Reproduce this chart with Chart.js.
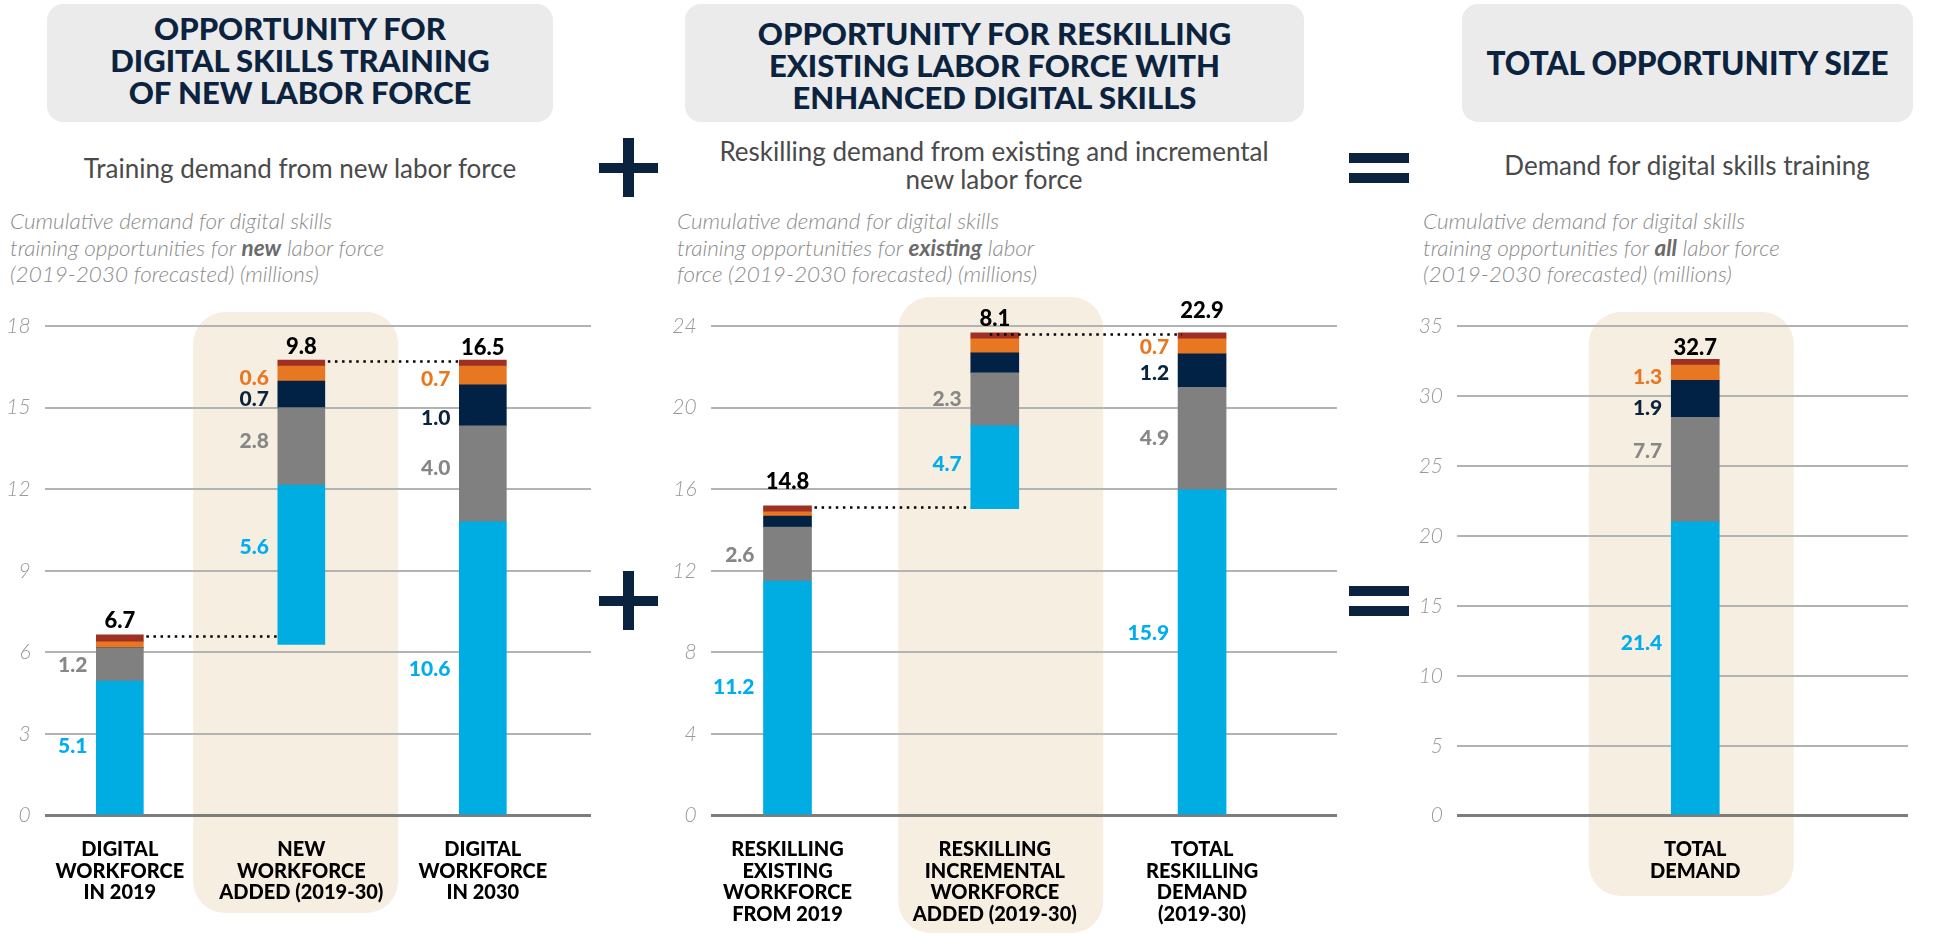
<!DOCTYPE html>
<html>
<head>
<meta charset="utf-8">
<script src="https://cdn.jsdelivr.net/npm/chart.js@4.4.1/dist/chart.umd.min.js"></script>
<style>
body{margin:0;width:1933px;height:934px;background:#fff;position:relative;overflow:hidden;font-family:Lato,'Open Sans',sans-serif;}
.box{position:absolute;top:4px;height:118px;background:#ebebeb;border-radius:16px;color:#0c2340;font-weight:900;font-size:31px;line-height:32px;text-align:center;box-sizing:border-box;}
.sub{position:absolute;color:#4a4a4a;font-size:26px;font-weight:400;line-height:28.3px;text-align:center;}
.desc{position:absolute;color:#8c8c8c;font-style:italic;font-weight:300;font-size:22.5px;line-height:26.7px;white-space:nowrap;}
.desc b{color:#6b6b6b;font-weight:700;}
.sign{position:absolute;background:#0c2340;}
canvas{position:absolute;}
</style>
</head>
<body>
<div class="box" style="left:47px;width:506px;padding-top:8px;">OPPORTUNITY FOR<br>DIGITAL SKILLS TRAINING<br>OF NEW LABOR FORCE</div>
<div class="box" style="left:685px;width:619px;padding-top:13px;">OPPORTUNITY FOR RESKILLING<br>EXISTING LABOR FORCE WITH<br>ENHANCED DIGITAL SKILLS</div>
<div class="box" style="left:1462px;width:451px;padding-top:43px;font-size:31.5px;">TOTAL OPPORTUNITY SIZE</div>

<div class="sub" style="left:0;width:600px;top:154px;">Training demand from new labor force</div>
<div class="sub" style="left:644px;width:700px;top:137px;">Reskilling demand from existing and incremental<br>new labor force</div>
<div class="sub" style="left:1437px;width:500px;top:151px;">Demand for digital skills training</div>

<div class="desc" style="left:10px;top:208px;">Cumulative demand for digital skills<br>training opportunities for <b>new</b> labor force<br>(2019-2030 forecasted) (millions)</div>
<div class="desc" style="left:677px;top:208px;">Cumulative demand for digital skills<br>training opportunities for <b>existing</b> labor<br>force (2019-2030 forecasted) (millions)</div>
<div class="desc" style="left:1423px;top:208px;">Cumulative demand for digital skills<br>training opportunities for <b>all</b> labor force<br>(2019-2030 forecasted) (millions)</div>

<!-- plus and equals signs -->
<div class="sign" style="left:599px;top:163px;width:59px;height:10px;"></div>
<div class="sign" style="left:623px;top:138px;width:11px;height:59px;"></div>
<div class="sign" style="left:599px;top:596px;width:59px;height:10px;"></div>
<div class="sign" style="left:623px;top:571px;width:11px;height:59px;"></div>
<div class="sign" style="left:1349px;top:153px;width:60px;height:10px;"></div>
<div class="sign" style="left:1349px;top:173px;width:60px;height:10px;"></div>
<div class="sign" style="left:1349px;top:586px;width:60px;height:10px;"></div>
<div class="sign" style="left:1349px;top:606px;width:60px;height:10px;"></div>

<canvas id="c1" width="591" height="649" style="left:0;top:285px;"></canvas>
<canvas id="c2" width="677" height="649" style="left:660px;top:285px;"></canvas>
<canvas id="c3" width="533" height="649" style="left:1390px;top:285px;"></canvas>

<script>
// series order, bottom to top
var seriesNames = ['Blue segment', 'Grey segment', 'Navy segment', 'Orange segment', 'Red segment'];
var barColors = ['#00ade3', '#808080', '#012245', '#e87722', '#9e3124'];
var labelColors = ['#00aeef', '#878787', '#0c2340', '#e87722', '#9e3124'];

// chart 1 - new labor force
var c1Cats = [['DIGITAL', 'WORKFORCE', 'IN 2019'], ['NEW', 'WORKFORCE', 'ADDED (2019-30)'], ['DIGITAL', 'WORKFORCE', 'IN 2030']];
var c1Base = [0, 6.3, 0];
var c1Blue = [4.95, 5.85, 10.8];
var c1Grey = [1.22, 2.85, 3.53];
var c1Navy = [0, 0.98, 1.51];
var c1Orange = [0.22, 0.55, 0.69];
var c1Red = [0.26, 0.22, 0.22];
var c1BlueLbl = ['5.1', '5.6', '10.6'];
var c1GreyLbl = ['1.2', '2.8', '4.0'];
var c1NavyLbl = ['', '0.7', '1.0'];
var c1OrangeLbl = ['', '0.6', '0.7'];
var c1Totals = ['6.7', '9.8', '16.5'];
var c1Ticks = [0, 18, 3];

// chart 2 - reskilling
var c2Cats = [['RESKILLING', 'EXISTING', 'WORKFORCE', 'FROM 2019'], ['RESKILLING', 'INCREMENTAL', 'WORKFORCE', 'ADDED (2019-30)'], ['TOTAL', 'RESKILLING', 'DEMAND', '(2019-30)']];
var c2Base = [0, 15.05, 0];
var c2Blue = [11.5, 4.07, 15.97];
var c2Grey = [2.65, 2.58, 5.03];
var c2Navy = [0.54, 0.98, 1.63];
var c2Orange = [0.2, 0.69, 0.74];
var c2Red = [0.3, 0.29, 0.29];
var c2BlueLbl = ['11.2', '4.7', '15.9'];
var c2GreyLbl = ['2.6', '2.3', '4.9'];
var c2NavyLbl = ['', '', '1.2'];
var c2OrangeLbl = ['', '', '0.7'];
var c2Totals = ['14.8', '8.1', '22.9'];
var c2Ticks = [0, 24, 4];

// chart 3 - total
var c3Cats = [['TOTAL', 'DEMAND']];
var c3Base = [0];
var c3Blue = [21.0];
var c3Grey = [7.48];
var c3Navy = [2.64];
var c3Orange = [1.08];
var c3Red = [0.42];
var c3BlueLbl = ['21.4'];
var c3GreyLbl = ['7.7'];
var c3NavyLbl = ['1.9'];
var c3OrangeLbl = ['1.3'];
var c3Totals = ['32.7'];
var c3Ticks = [0, 35, 5];

function buildDatasets(base, series, labels, thick) {
    var run = base.slice();
    return series.map(function(vals, k) {
        return {
            label: seriesNames[k],
            backgroundColor: barColors[k],
            borderWidth: 0,
            grouped: false,
            barThickness: thick,
            valueLabels: labels[k] || [],
            data: vals.map(function(v, i) {
                var s = run[i];
                run[i] = s + v;
                return {x: i, y: [s, s + v]};
            })
        };
    });
}

var decorPlugin = {
    id: 'decor',
    beforeDraw: function(chart, args, o) {
        var ctx = chart.ctx;
        var x = chart.scales.x.getPixelForValue(o.shadeIndex) + o.shadeShift;
        ctx.save();
        ctx.fillStyle = '#f6eee1';
        ctx.beginPath();
        ctx.roundRect(x - 102.5, o.shadeTop, 205, o.shadeBottom - o.shadeTop, 32);
        ctx.fill();
        ctx.restore();
    },
    afterDatasetsDraw: function(chart, args, o) {
        var ctx = chart.ctx;
        var n = chart.data.datasets.length;
        ctx.save();
        // segment labels, nudged like the original artwork
        ctx.textAlign = 'right';
        ctx.textBaseline = 'middle';
        ctx.font = '900 21px Lato';
        chart.data.datasets.forEach(function(ds, k) {
            var meta = chart.getDatasetMeta(k);
            var shift = o.labelShift[k] || [];
            meta.data.forEach(function(el, i) {
                var t = ds.valueLabels[i];
                if (!t) return;
                ctx.fillStyle = labelColors[k];
                ctx.fillText(t, el.x - el.width / 2 - 9, (el.y + el.base) / 2 + 1 + (shift[i] || 0));
            });
        });
        // totals
        var top = chart.getDatasetMeta(n - 1).data;
        ctx.textAlign = 'center';
        ctx.fillStyle = '#000';
        ctx.font = '900 22px Lato';
        top.forEach(function(el, i) {
            ctx.fillText(o.totals[i], el.x, el.y - o.totalGap[i]);
        });
        // dotted connectors (third item: start from the bar middle)
        ctx.strokeStyle = '#000';
        ctx.lineWidth = 2.5;
        ctx.setLineDash([2.5, 4.6]);
        (o.links || []).forEach(function(l) {
            var a = top[l[0]], b = top[l[1]];
            var y = Math.round(a.y) + 1.5;
            var x0 = l[2] ? a.x - 5 : a.x + a.width / 2 + 3;
            ctx.beginPath();
            ctx.moveTo(x0, y);
            ctx.lineTo(b.x - b.width / 2 + (l[2] ? 4 : 0), y);
            ctx.stroke();
        });
        ctx.restore();
    }
};

function makeChart(id, cats, ds, ticks, xmin, xmax, yWidth, decor) {
    return new Chart(document.getElementById(id), {
        type: 'bar',
        data: {datasets: ds},
        plugins: [decorPlugin],
        options: {
            responsive: false,
            animation: false,
            layout: {padding: {top: 41, right: 0, bottom: 0, left: 0}},
            plugins: {legend: {display: false}, tooltip: {enabled: false}, decor: decor},
            scales: {
                x: {
                    type: 'linear', min: xmin, max: xmax, offset: false,
                    afterFit: function(s) { s.height = 118.3; },
                    grid: {display: false}, border: {display: false},
                    ticks: {
                        stepSize: 1, includeBounds: false, autoSkip: false, maxRotation: 0, padding: 15,
                        color: '#000', font: {family: 'Lato', weight: '900', size: 20, lineHeight: 1.08},
                        callback: function(v) { return cats[v] || ''; }
                    }
                },
                y: {
                    min: ticks[0], max: ticks[1],
                    afterFit: function(s) { s.width = yWidth; },
                    border: {display: false},
                    grid: {
                        drawTicks: false,
                        color: function(c) { return c.tick.value === 0 ? '#7d7d7d' : '#b3b3b3'; },
                        lineWidth: function(c) { return c.tick.value === 0 ? 3 : 2; }
                    },
                    ticks: {stepSize: ticks[2], padding: 14, color: '#999', font: {family: 'Lato', style: 'italic', weight: '300', size: 21}}
                }
            }
        }
    });
}

makeChart('c1', c1Cats,
    buildDatasets(c1Base, [c1Blue, c1Grey, c1Navy, c1Orange, c1Red], [c1BlueLbl, c1GreyLbl, c1NavyLbl, c1OrangeLbl], 47),
    c1Ticks, -0.414, 2.596, 44.7,
    {totals: c1Totals, totalGap: [14, 13, 12], links: [[0, 1], [1, 2]],
     labelShift: [[-2, -18, 0], [0, -6, -7], [0, 4, 12], [0, 4, 3]],
     shadeIndex: 1, shadeShift: -5.7, shadeTop: 27, shadeBottom: 628});

makeChart('c2', c2Cats,
    buildDatasets(c2Base, [c2Blue, c2Grey, c2Navy, c2Orange, c2Red], [c2BlueLbl, c2GreyLbl, c2NavyLbl, c2OrangeLbl], 48),
    c2Ticks, -0.371, 2.651, 50.6,
    {totals: c2Totals, totalGap: [24, 14, 22], links: [[0, 1], [1, 2, true]],
     labelShift: [[-11, -4, -20], [0, -1, -1], [0, 0, 2], [0, 0, 0]],
     shadeIndex: 1, shadeShift: 6, shadeTop: 12, shadeBottom: 648});

makeChart('c3', c3Cats,
    buildDatasets(c3Base, [c3Blue, c3Grey, c3Navy, c3Orange, c3Red], [c3BlueLbl, c3GreyLbl, c3NavyLbl, c3OrangeLbl], 48),
    c3Ticks, -1.12, 1, 67,
    {totals: c3Totals, totalGap: [11], links: [],
     labelShift: [[-26], [-19], [8], [4]],
     shadeIndex: 0, shadeShift: -4, shadeTop: 27, shadeBottom: 611});
</script>
</body>
</html>
